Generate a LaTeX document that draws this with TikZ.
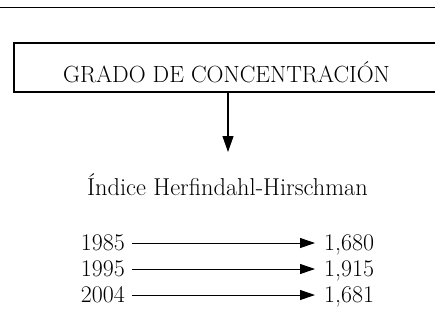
\documentclass[tikz,border=0pt]{standalone}
\usetikzlibrary{arrows.meta}
\begin{document}
\begin{tikzpicture}[x=1bp,y=-1bp,
  lbl/.style={inner sep=0pt,font=\fontsize{24}{28}\selectfont},
  conn/.style={line width=1.1bp,-{Triangle[length=16bp,width=11bp]}},
  rowarrow/.style={line width=1bp,-{Triangle[length=15bp,width=10bp]}}]
\useasboundingbox (0,0) rectangle (435,323);
\coordinate (tl) at (0,7.5);
\coordinate (tr) at (435,7.5);
\draw[line width=1.6bp] (tl) -- (tr);
\coordinate (bx1) at (436,43);
\coordinate (bx2) at (14,43);
\coordinate (bx3) at (14,92);
\coordinate (bx4) at (436,92);
\draw[line width=1.3bp] (bx1) -- (bx2) -- (bx3) -- (bx4);
\node[lbl,anchor=base,font=\fontsize{23.5}{28}\selectfont] (grado) at (226.5,82) {GRADO DE CONCENTRACIÓN};
\coordinate (astart) at (228,92);
\coordinate (aend) at (228,152);
\node[lbl,anchor=base,font=\fontsize{24.5}{28}\selectfont] (indice) at (227.5,195) {Índice Herfindahl-Hirschman};
\draw[conn] (astart) -- (aend);
\node[lbl,anchor=base east] (y1) at (125,250) {1985};
\node[lbl,anchor=base east] (y2) at (125,276) {1995};
\node[lbl,anchor=base east] (y3) at (125,302) {2004};
\node[lbl,anchor=base west] (v1) at (324,250) {1,680};
\node[lbl,anchor=base west] (v2) at (324,276) {1,915};
\node[lbl,anchor=base west] (v3) at (324,302) {1,681};
\draw[rowarrow] ([xshift=7bp,yshift=7bp]y1.base east) -- ([xshift=-9bp,yshift=7bp]v1.base west);
\draw[rowarrow] ([xshift=7bp,yshift=7bp]y2.base east) -- ([xshift=-9bp,yshift=7bp]v2.base west);
\draw[rowarrow] ([xshift=7bp,yshift=7bp]y3.base east) -- ([xshift=-9bp,yshift=7bp]v3.base west);
\end{tikzpicture}
\end{document}
